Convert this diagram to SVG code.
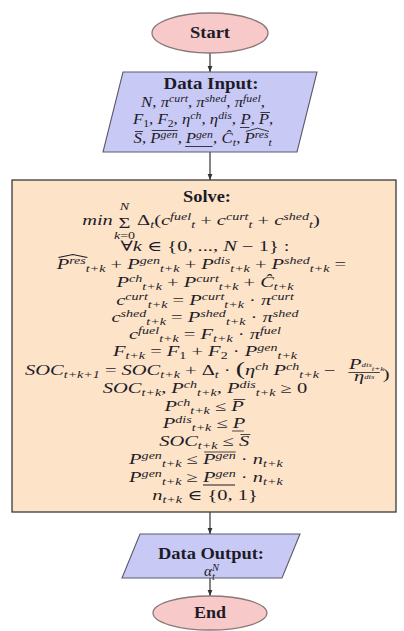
<svg xmlns="http://www.w3.org/2000/svg" width="404" height="631" viewBox="0 0 404 631">
<style>
.m{font-family:"Liberation Serif","DejaVu Serif",serif;font-size:14px;font-style:italic;fill:#1c1c28;text-anchor:middle}
.d{font-size:15px}
.s{font-size:9.6px}
.ds{font-size:10.5px}
.u{font-style:normal}
.st{text-anchor:start}
.en{text-anchor:end}
.b{font-family:"Liberation Serif","DejaVu Serif",serif;font-weight:bold;fill:#1c1c28;text-anchor:middle;font-size:16px}
.deco{stroke:#1c1c28;stroke-width:0.8;fill:none}
.term{fill:#f8c9c9;stroke:#8a7878;stroke-width:1.3}
.io{fill:#c9c9f6;stroke:#5a5a6a;stroke-width:1.1}
.proc{fill:#fde3c8;stroke:#3a3a3a;stroke-width:1.3}
.arrow{stroke:#333;stroke-width:1.2;fill:none;marker-end:url(#ah)}
</style>
<defs>
<marker id="ah" viewBox="0 0 10 10" refX="10" refY="5" markerWidth="5" markerHeight="5" orient="auto"><path d="M0,1 L10,5 L0,9 z" fill="#333"/></marker>
</defs>
<g id="connectors">
<line class="arrow" x1="210" y1="53" x2="210" y2="72"/>
<line class="arrow" x1="210" y1="152" x2="210" y2="180"/>
<line class="arrow" x1="210" y1="512" x2="210" y2="534"/>
<line class="arrow" x1="210" y1="578" x2="210" y2="596"/>
</g>
<g id="start">
<ellipse class="term" cx="210" cy="33" rx="58" ry="20"/>
<text class="b" x="210" y="38" textLength="40" lengthAdjust="spacingAndGlyphs">Start</text>
</g>
<g id="data-input">
<polygon class="io" points="123,72 317,72 297,152 103,152"/>
<text class="b" x="211" y="89" textLength="95" lengthAdjust="spacingAndGlyphs">Data Input:</text>
<g transform="translate(203,0) scale(1.12,1)">
<text class="m d" x="0" y="107">N<tspan class="u">, </tspan>π<tspan class="ds" dy="-5">curt</tspan><tspan class="u" dy="5">, </tspan>π<tspan class="ds" dy="-5">shed</tspan><tspan class="u" dy="5">, </tspan>π<tspan class="ds" dy="-5">fuel</tspan><tspan class="u" dy="5">,</tspan></text>
<text class="m d en" x="29.5" y="124">F<tspan class="ds u" dy="3">1</tspan><tspan class="u" dy="-3">, </tspan>F<tspan class="ds u" dy="3">2</tspan><tspan class="u" dy="-3">, </tspan>η<tspan class="ds" dy="-5">ch</tspan><tspan class="u" dy="5">, </tspan>η<tspan class="ds" dy="-5">dis</tspan><tspan class="u" dy="5">,</tspan></text>
<text class="m d st" x="33.5" y="124">P</text>
<line class="deco" x1="33" y1="127.5" x2="41.5" y2="127.5"/>
<text class="m d u st" x="42.7" y="124">,</text>
<text class="m d st" x="49.7" y="124">P</text>
<line class="deco" x1="51.2" y1="112.5" x2="59.8" y2="112.5"/>
<text class="m d u st" x="59" y="124">,</text>
<text class="m d st" x="-62" y="143">S</text>
<line class="deco" x1="-60.8" y1="131.5" x2="-53.5" y2="131.5"/>
<text class="m d u st" x="-54.5" y="143">,</text>
<text class="m d st" x="-47" y="143">P<tspan class="ds" dy="-5">gen</tspan></text>
<line class="deco" x1="-45.8" y1="130.5" x2="-22.6" y2="130.5"/>
<text class="m d u st" x="-22.6" y="143">,</text>
<text class="m d st" x="-15.5" y="143">P<tspan class="ds" dy="-5">gen</tspan></text>
<line class="deco" x1="-16" y1="146.5" x2="8.5" y2="146.5"/>
<text class="m d u st" x="8.9" y="143">,</text>
<text class="m d st" x="16.5" y="143">Ĉ<tspan class="ds" dy="3.5">t</tspan></text>
<text class="m d u st" x="29.6" y="143">,</text>
<text class="m d st" x="37" y="143">P<tspan class="ds" dy="-5">res</tspan><tspan class="ds" dy="8.5">t</tspan></text>
<polyline class="deco" points="38.3,131.5 48.6,128.2 58.9,131.5"/>
</g>
</g>
<g id="solve">
<rect class="proc" x="12" y="180" width="384" height="332"/>
<text class="b" x="207" y="202" textLength="48" lengthAdjust="spacingAndGlyphs">Solve:</text>
<g transform="translate(205,0) scale(1.463,1)">
<text class="m en" x="-63" y="225">min</text>
<text class="m u" x="-55" y="228" font-size="21">Σ</text>
<text class="m s" x="-55" y="210.5">N</text>
<text class="m s" x="-55" y="239">k<tspan class="u">=0</tspan></text>
<text class="m st" x="-46.4" y="225"><tspan class="u">Δ</tspan><tspan class="s" dy="3.5">t</tspan><tspan class="u" dy="-3.5">(</tspan>c<tspan class="s" dy="-5">fuel</tspan><tspan class="s" dy="8.5">t</tspan><tspan class="u" dy="-3.5"> + </tspan>c<tspan class="s" dy="-5">curt</tspan><tspan class="s" dy="8.5">t</tspan><tspan class="u" dy="-3.5"> + </tspan>c<tspan class="s" dy="-5">shed</tspan><tspan class="s" dy="8.5">t</tspan><tspan class="u" dy="-3.5">)</tspan></text>
<text class="m" x="0" y="251"><tspan class="u">∀</tspan>k<tspan class="u"> ∈ {0, ..., </tspan>N<tspan class="u"> − 1} :</tspan></text>
<text class="m st" x="-101.4" y="269">P<tspan class="s" dy="-5">res</tspan><tspan class="s" dy="8.5">t+k</tspan><tspan class="u" dy="-3.5"> + </tspan>P<tspan class="s" dy="-5">gen</tspan><tspan class="s" dy="8.5">t+k</tspan><tspan class="u" dy="-3.5"> + </tspan>P<tspan class="s" dy="-5">dis</tspan><tspan class="s" dy="8.5">t+k</tspan><tspan class="u" dy="-3.5"> + </tspan>P<tspan class="s" dy="-5">shed</tspan><tspan class="s" dy="8.5">t+k</tspan><tspan class="u" dy="-3.5"> =</tspan></text>
<polyline class="deco" points="-100.2,257.5 -90.3,254.5 -80.4,257.5"/>
<text class="m" x="0" y="287">P<tspan class="s" dy="-5">ch</tspan><tspan class="s" dy="8.5">t+k</tspan><tspan class="u" dy="-3.5"> + </tspan>P<tspan class="s" dy="-5">curt</tspan><tspan class="s" dy="8.5">t+k</tspan><tspan class="u" dy="-3.5"> + </tspan>Ĉ<tspan class="s" dy="3.5">t+k</tspan></text>
<text class="m" x="0" y="305">c<tspan class="s" dy="-5">curt</tspan><tspan class="s" dy="8.5">t+k</tspan><tspan class="u" dy="-3.5"> = </tspan>P<tspan class="s" dy="-5">curt</tspan><tspan class="s" dy="8.5">t+k</tspan><tspan class="u" dy="-3.5"> · </tspan>π<tspan class="s" dy="-5">curt</tspan></text>
<text class="m" x="0" y="322">c<tspan class="s" dy="-5">shed</tspan><tspan class="s" dy="8.5">t+k</tspan><tspan class="u" dy="-3.5"> = </tspan>P<tspan class="s" dy="-5">shed</tspan><tspan class="s" dy="8.5">t+k</tspan><tspan class="u" dy="-3.5"> · </tspan>π<tspan class="s" dy="-5">shed</tspan></text>
<text class="m" x="0" y="339">c<tspan class="s" dy="-5">fuel</tspan><tspan class="s" dy="8.5">t+k</tspan><tspan class="u" dy="-3.5"> = </tspan>F<tspan class="s" dy="3.5">t+k</tspan><tspan class="u" dy="-3.5"> · </tspan>π<tspan class="s" dy="-5">fuel</tspan></text>
<text class="m" x="0" y="356">F<tspan class="s" dy="3.5">t+k</tspan><tspan class="u" dy="-3.5"> = </tspan>F<tspan class="s u" dy="3.5">1</tspan><tspan class="u" dy="-3.5"> + </tspan>F<tspan class="s u" dy="3.5">2</tspan><tspan class="u" dy="-3.5"> · </tspan>P<tspan class="s" dy="-5">gen</tspan><tspan class="s" dy="8.5">t+k</tspan></text>
<text class="m st" x="-123" y="375">SOC<tspan class="s" dy="3.5">t+k+1</tspan><tspan class="u" dy="-3.5"> = </tspan>SOC<tspan class="s" dy="3.5">t+k</tspan><tspan class="u" dy="-3.5"> + Δ</tspan><tspan class="s" dy="3.5">t</tspan><tspan class="u" dy="-3.5"> · </tspan><tspan class="u" font-size="19">(</tspan>η<tspan class="s" dy="-5">ch</tspan><tspan dy="5"> P</tspan><tspan class="s" dy="-5">ch</tspan><tspan class="s" dy="8.5">t+k</tspan><tspan class="u" dy="-3.5"> −</tspan></text>
<text class="m st" x="98.5" y="369.3" font-size="8">P<tspan font-size="6" dy="-2.5">dis</tspan><tspan font-size="6" dy="4.3">t+k</tspan></text>
<line class="deco" x1="98" y1="372.5" x2="119.5" y2="372.5" stroke-width="0.6"/>
<text class="m" x="108.8" y="381.5" font-size="8">η<tspan font-size="6" dy="-2.5">dis</tspan></text>
<text class="m u st" x="121.5" y="379" font-size="19">)</text>
<text class="m" x="0" y="393">SOC<tspan class="s" dy="3.5">t+k</tspan><tspan class="u" dy="-3.5">, </tspan>P<tspan class="s" dy="-5">ch</tspan><tspan class="s" dy="8.5">t+k</tspan><tspan class="u" dy="-3.5">, </tspan>P<tspan class="s" dy="-5">dis</tspan><tspan class="s" dy="8.5">t+k</tspan><tspan class="u" dy="-3.5"> ≥ 0</tspan></text>
<text class="m en" x="14.5" y="411">P<tspan class="s" dy="-5">ch</tspan><tspan class="s" dy="8.5">t+k</tspan><tspan class="u" dy="-3.5"> ≤</tspan></text>
<text class="m st" x="18" y="411">P</text>
<line class="deco" x1="19.5" y1="399.5" x2="27.5" y2="399.5"/>
<text class="m en" x="15.5" y="428">P<tspan class="s" dy="-5">dis</tspan><tspan class="s" dy="8.5">t+k</tspan><tspan class="u" dy="-3.5"> ≤</tspan></text>
<text class="m st" x="19" y="428">P</text>
<line class="deco" x1="18.5" y1="431" x2="26.5" y2="431"/>
<text class="m en" x="19.7" y="446">SOC<tspan class="s" dy="3.5">t+k</tspan><tspan class="u" dy="-3.5"> ≤</tspan></text>
<text class="m st" x="23.2" y="446">S</text>
<line class="deco" x1="24.2" y1="434.5" x2="31" y2="434.5"/>
<text class="m en" x="-4.9" y="464">P<tspan class="s" dy="-5">gen</tspan><tspan class="s" dy="8.5">t+k</tspan><tspan class="u" dy="-3.5"> ≤</tspan></text>
<text class="m st" x="-1.4" y="464">P<tspan class="s" dy="-5">gen</tspan><tspan class="u" dy="5"> · </tspan>n<tspan class="s" dy="3.5">t+k</tspan></text>
<line class="deco" x1="-0.6" y1="452" x2="21" y2="452"/>
<text class="m en" x="-4.9" y="482">P<tspan class="s" dy="-5">gen</tspan><tspan class="s" dy="8.5">t+k</tspan><tspan class="u" dy="-3.5"> ≥</tspan></text>
<text class="m st" x="-1.4" y="482">P<tspan class="s" dy="-5">gen</tspan><tspan class="u" dy="5"> · </tspan>n<tspan class="s" dy="3.5">t+k</tspan></text>
<line class="deco" x1="-1.4" y1="485" x2="20.5" y2="485"/>
<text class="m" x="0" y="500">n<tspan class="s" dy="3.5">t+k</tspan><tspan class="u" dy="-3.5"> ∈ {0, 1}</tspan></text>
</g>
</g>
<g id="data-output">
<polygon class="io" points="140,534 300,534 282,578 122,578"/>
<text class="b" x="211" y="559" textLength="106" lengthAdjust="spacingAndGlyphs">Data Output:</text>
<text class="m d st" x="204" y="576">α</text>
<text class="m ds st" x="212" y="571">N</text>
<text class="m ds st" x="212" y="580">t</text>
</g>
<g id="end">
<ellipse class="term" cx="210" cy="613" rx="57" ry="17"/>
<text class="b" x="210" y="618" textLength="32" lengthAdjust="spacingAndGlyphs">End</text>
</g>
</svg>
